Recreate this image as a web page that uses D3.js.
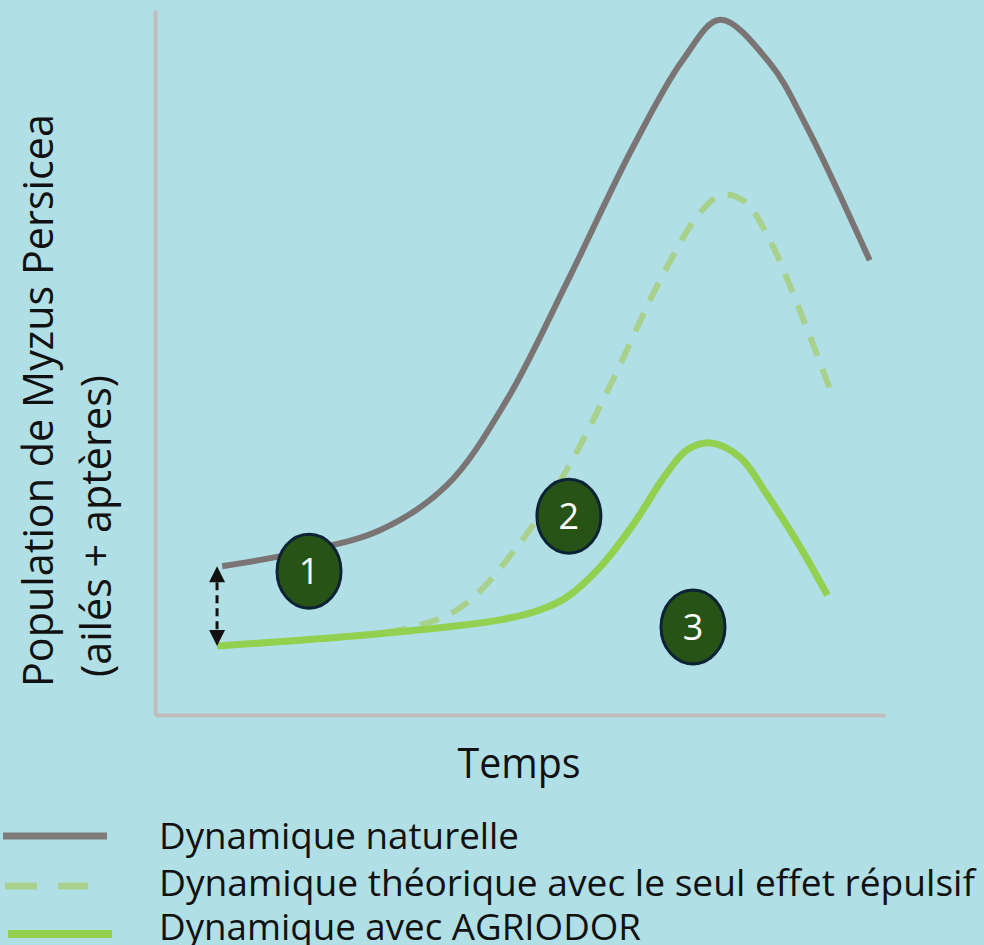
<!DOCTYPE html>
<html>
<head>
<meta charset="utf-8">
<script src="https://cdn.jsdelivr.net/npm/d3@7"></script>
<style>
  html, body { margin: 0; padding: 0; background: #b0dfe6; }
  svg { display: block; }
</style>
</head>
<body>
<svg id="chart" width="984" height="945"></svg>
<script>
// ---- Data (time 0-100, population 0-100, arbitrary units) ----
const naturalT   = [9.2, 19.9, 30.8, 40.0, 48.2, 56.4, 65.5, 72.3, 77.4, 84.2, 89.3, 97.9];
const naturalPop = [21.1, 23.1, 26.2, 32.6, 44.7, 61.3, 80.6, 92.9, 98.6, 92.5, 83.4, 64.5];

const repulsifT   = [8.5, 19.9, 33.6, 41.8, 50.0, 56.8, 62.7, 69.2, 74.7, 77.7, 80.8, 84.2, 88.4, 92.5];
const repulsifPop = [9.8, 10.6, 12.1, 15.2, 24.4, 35.5, 47.5, 61.7, 71.3, 73.8, 72.8, 67.4, 57.2, 46.1];

const agriodorT   = [8.5, 19.9, 33.6, 47.3, 52.7, 56.4, 61.0, 65.5, 70.1, 72.9, 76.0, 80.1, 83.8, 88.4, 92.1];
const agriodorPop = [9.8, 10.6, 11.8, 13.5, 14.9, 16.7, 21.0, 27.0, 34.3, 37.6, 38.6, 36.6, 31.3, 23.8, 17.0];

const markerLabels = ["1", "2", "3"];
const markerT      = [21.1, 56.7, 73.7];
const markerPop    = [20.4, 28.2, 12.5];

const arrowT = 8.5;
const arrowFrom = 21.1;
const arrowTo = 9.8;

const yTitle = ["Population de Myzus Persicea", "(ailés + aptères)"];
const xTitle = "Temps";
const legendLabels = ["Dynamique naturelle", "Dynamique théorique avec le seul effet répulsif", "Dynamique avec AGRIODOR"];

// ---- Layout ----
const svg = d3.select("#chart");
const FONT = "'Open Sans', 'Noto Sans', sans-serif";
svg.append("rect").attr("width", 984).attr("height", 945).attr("fill", "#b0dfe6");

const x = d3.scaleLinear().domain([0, 100]).range([155, 885]);
const y = d3.scaleLinear().domain([0, 100]).range([715, 10]);

// Axes (no ticks)
const axisColor = "#c1bdbd";
const gy = svg.append("g").attr("transform", "translate(155,0)")
  .call(d3.axisLeft(y).tickValues([]).tickSizeOuter(0));
const gx = svg.append("g").attr("transform", "translate(0,715)")
  .call(d3.axisBottom(x).tickValues([]).tickSizeOuter(0));
[gy, gx].forEach(g => g.select(".domain").attr("stroke", axisColor).attr("stroke-width", 4));

const line = d3.line().x(d => x(d[0])).y(d => y(d[1])).curve(d3.curveCatmullRom.alpha(0.5));
const zip = (a, b) => a.map((v, i) => [v, b[i]]);

const colNat = "#7a7574", colRep = "#a9d18e", colAgr = "#92d050";

svg.append("path").datum(zip(repulsifT, repulsifPop))
  .attr("d", line).attr("fill", "none").attr("stroke", colRep)
  .attr("stroke-width", 6).attr("stroke-dasharray", "20,14");
svg.append("path").datum(zip(naturalT, naturalPop))
  .attr("d", line).attr("fill", "none").attr("stroke", colNat).attr("stroke-width", 6);
svg.append("path").datum(zip(agriodorT, agriodorPop))
  .attr("d", line).attr("fill", "none").attr("stroke", colAgr).attr("stroke-width", 7);

// Double-headed dashed arrow
const ax = x(arrowT), ay1 = y(arrowFrom), ay2 = y(arrowTo);
svg.append("line").attr("x1", ax).attr("x2", ax).attr("y1", ay1 + 16).attr("y2", ay2 - 16)
  .attr("stroke", "#111").attr("stroke-width", 3).attr("stroke-dasharray", "8,5");
svg.append("path").attr("d", `M${ax},${ay1} L${ax - 8},${ay1 + 16} L${ax + 8},${ay1 + 16} Z`).attr("fill", "#111");
svg.append("path").attr("d", `M${ax},${ay2} L${ax - 8},${ay2 - 16} L${ax + 8},${ay2 - 16} Z`).attr("fill", "#111");

// Numbered markers
const mk = svg.append("g").selectAll("g").data(markerLabels).join("g")
  .attr("transform", (d, i) => `translate(${x(markerT[i])},${y(markerPop[i])})`);
mk.append("ellipse").attr("rx", 32).attr("ry", 37).attr("fill", "#285316")
  .attr("stroke", "#0b2335").attr("stroke-width", 3);
mk.append("text").text(d => d).attr("text-anchor", "middle").attr("dy", "0.36em")
  .attr("fill", "#fff").attr("font-family", FONT).attr("font-size", 36);

// Y title
yTitle.forEach((t, i) => {
  svg.append("text").text(t)
    .attr("transform", `translate(${[53, 111][i]},${[687, 677][i]}) rotate(-90)`)
    .attr("font-family", FONT).attr("font-size", 42).attr("fill", "#111")
    .attr("textLength", [573, 302][i]).attr("lengthAdjust", "spacingAndGlyphs");
});

// X title
svg.append("text").text(xTitle).attr("x", 519).attr("y", 778).attr("text-anchor", "middle")
  .attr("font-family", FONT).attr("font-size", 42).attr("fill", "#111")
  .attr("textLength", 123).attr("lengthAdjust", "spacingAndGlyphs");

// Legend
const legY = [836, 886, 934];
const legBase = [849, 896, 940];
const legLen = [360, 816, 482];
svg.append("line").attr("x1", 3).attr("x2", 107).attr("y1", legY[0]).attr("y2", legY[0])
  .attr("stroke", "#807b7b").attr("stroke-width", 7);
svg.append("line").attr("x1", 5).attr("x2", 88).attr("y1", legY[1]).attr("y2", legY[1])
  .attr("stroke", colRep).attr("stroke-width", 7).attr("stroke-dasharray", "32,21");
svg.append("line").attr("x1", 8).attr("x2", 112).attr("y1", legY[2]).attr("y2", legY[2])
  .attr("stroke", colAgr).attr("stroke-width", 8);
legendLabels.forEach((t, i) => {
  svg.append("text").text(t).attr("x", 159).attr("y", legBase[i])
    .attr("font-family", FONT).attr("font-size", 37).attr("fill", "#111")
    .attr("textLength", legLen[i]).attr("lengthAdjust", "spacingAndGlyphs");
});
</script>
</body>
</html>
